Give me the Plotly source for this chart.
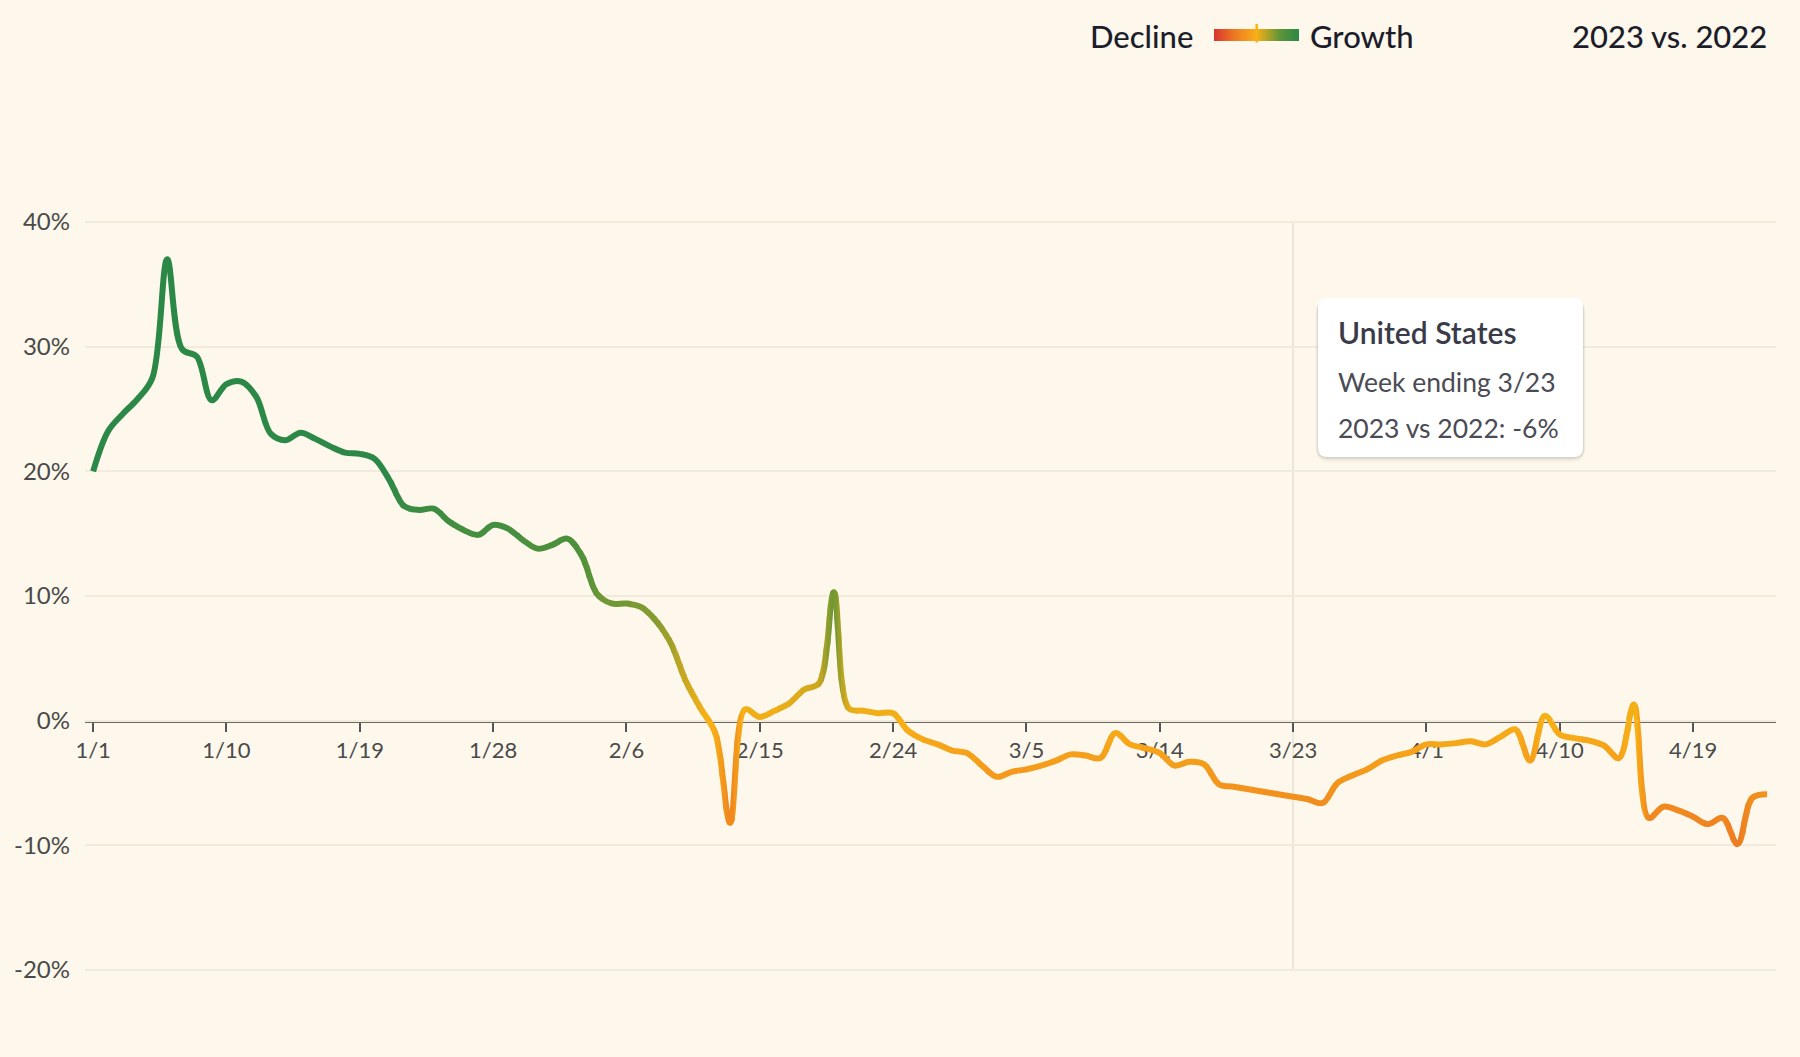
import pandas as pd
import plotly.graph_objects as go

# ---------------- data ----------------
start_date = "2023-01-01"
values = [
    20.0, 23.2, 24.6, 25.8, 27.5, 37.0, 29.8, 29.2, 25.7, 27.0,
    27.2, 26.0, 23.0, 22.5, 23.1, 22.6, 22.0, 21.5, 21.4, 21.0,
    19.3, 17.2, 16.9, 17.0, 16.0, 15.3, 14.9, 15.7, 15.4, 14.5,
    13.8, 14.1, 14.6, 13.2, 10.2, 9.4, 9.4, 9.1, 8.0, 6.2,
    3.2, 1.0, -1.0, -8.2, 0.9, 0.3, 0.8, 1.4, 2.5, 3.0,
    10.3, 1.0, 0.8, 0.6, 0.6, -0.8, -1.5, -1.9, -2.4, -2.6,
    -3.6, -4.5, -4.1, -3.9, -3.6, -3.2, -2.7, -2.8, -3.0, -1.0,
    -1.9, -2.2, -2.6, -3.6, -3.3, -3.5, -5.1, -5.3, -5.5, -5.7,
    -5.9, -6.1, -6.3, -6.6, -5.0, -4.4, -3.9, -3.2, -2.8, -2.5,
    -1.9, -1.9, -1.8, -1.65, -1.9, -1.3, -0.7, -3.2, 0.4, -1.1,
    -1.4, -1.6, -2.0, -3.0, 1.3, -7.8, -6.9, -7.2, -7.7, -8.3,
    -7.8, -9.9, -6.2, -5.9,
]
dates = pd.date_range(start_date, periods=len(values), freq="D")

tick_dates = ["2023-01-01", "2023-01-10", "2023-01-19", "2023-01-28", "2023-02-06",
              "2023-02-15", "2023-02-24", "2023-03-05", "2023-03-14", "2023-03-23",
              "2023-04-01", "2023-04-10", "2023-04-19"]
tick_labels = ["1/1", "1/10", "1/19", "1/28", "2/6", "2/15", "2/24", "3/5",
               "3/14", "3/23", "4/1", "4/10", "4/19"]
y_ticks = [-20, -10, 0, 10, 20, 30, 40]
y_tick_labels = ["-20%", "-10%", "0%", "10%", "20%", "30%", "40%"]

tooltip_region = "United States"
tooltip_week = "Week ending 3/23"
tooltip_value = "2023 vs 2022: -6%"
hover_date = "2023-03-23"

# ---------------- style ----------------
BG = "#FEF8EC"
FONT = "Lato, 'Open Sans', sans-serif"
W, H = 1800, 1057
ML, MR, MT, MB = 85, 24, 197, 62
PW, PH = W - ML - MR, H - MT - MB
Y_MIN, Y_MAX = -22, 42
C_MIN, C_MAX = -20, 20
LO_D, HI_D = -0.55, 113.6          # visible x-range in days from start_date
SPAN = HI_D - LO_D

stops = [(0.0, (216, 53, 47)), (0.25, (238, 122, 34)), (0.5, (248, 176, 23)),
         (0.78, (92, 148, 56)), (1.0, (42, 136, 71))]


def color_for(v):
    t = (min(max(v, C_MIN), C_MAX) - C_MIN) / (C_MAX - C_MIN)
    for (t0, c0), (t1, c1) in zip(stops[:-1], stops[1:]):
        if t <= t1:
            f = (t - t0) / (t1 - t0) if t1 > t0 else 0
            r, g, b = (round(c0[k] + (c1[k] - c0[k]) * f) for k in range(3))
            return f"rgb({r},{g},{b})"
    r, g, b = stops[-1][1]
    return f"rgb({r},{g},{b})"


colorscale = [[t, f"rgb{c}"] for t, c in stops]


def T(d):
    return (pd.Timestamp(start_date) + pd.Timedelta(days=d)).isoformat()


# paper-coordinate helpers for decorations (tooltip / legend)
def px(xp):
    return (xp - ML) / PW


def py(yp):
    return (H - MB - yp) / PH


fig = go.Figure()
layout_extra = {}

# ---------- gradient line: the same spline drawn in narrow x-windows, each clipped
# to its own (invisible) x-axis domain and coloured by the local value ----------
BIN = 0.6


def bin_of(v):
    v = min(max(v, C_MIN), C_MAX)
    return round(v / BIN)


SUB = 4
windows = []
for i in range(len(values) - 1):
    for j in range(SUB):
        a = i + j / SUB
        b = a + 1 / SUB
        c = values[i] + (values[i + 1] - values[i]) * (j + 0.5) / SUB
        k = bin_of(c)
        if windows and windows[-1][2] == k:
            windows[-1][1] = b
        else:
            windows.append([a, b, k])
windows[0][0] = LO_D
windows[-1][1] = HI_D

EPS = 1.2 * SPAN / PW  # one pixel of overlap to hide seams
for idx, (a, b, k) in enumerate(windows):
    n = idx + 2
    b2 = min(b + EPS, HI_D)
    layout_extra[f"xaxis{n}"] = dict(
        domain=[(a - LO_D) / SPAN, (b2 - LO_D) / SPAN], range=[T(a), T(b2)],
        type="date", visible=False, showgrid=False, zeroline=False,
        anchor="y", fixedrange=True,
    )
    fig.add_trace(go.Scatter(
        x=dates, y=values, mode="lines", xaxis=f"x{n}", yaxis="y",
        line=dict(color=color_for(k * BIN), width=6, shape="spline", smoothing=1.0),
        hoverinfo="skip", showlegend=False,
    ))

# dummy trace providing the Decline/Growth gradient legend
fig.add_trace(go.Scatter(
    x=[dates[0]], y=[0], mode="markers", hoverinfo="skip", showlegend=False,
    marker=dict(size=1, opacity=0, color=[0], cmin=C_MIN, cmax=C_MAX,
                colorscale=colorscale, showscale=True,
                colorbar=dict(orientation="h", x=px(1256.5), xanchor="center",
                              y=py(35), yanchor="middle", len=105, lenmode="pixels",
                              thickness=12, thicknessmode="pixels", outlinewidth=0,
                              xpad=10, ypad=0,
                              showticklabels=False, ticks="")),
))

shapes = []
# hover guide line
shapes.append(dict(type="line", xref="x", yref="y", x0=hover_date, x1=hover_date,
                   y0=-20, y1=40, line=dict(color="#ECE6DA", width=2), layer="below"))
# legend centre tick
shapes.append(dict(type="line", xref="paper", yref="paper", x0=px(1256.7), x1=px(1256.7),
                   y0=py(24), y1=py(42.5), line=dict(color="#F8B411", width=2.5)))


def rounded_rect(x0, y0, x1, y1, r):
    rx, ry = r / PW, r / PH
    X0, X1 = px(x0), px(x1)
    Y0, Y1 = py(y0), py(y1)  # Y0 top (larger), Y1 bottom
    return (f"M {X0+rx},{Y0} L {X1-rx},{Y0} Q {X1},{Y0} {X1},{Y0-ry} "
            f"L {X1},{Y1+ry} Q {X1},{Y1} {X1-rx},{Y1} L {X0+rx},{Y1} "
            f"Q {X0},{Y1} {X0},{Y1+ry} L {X0},{Y0-ry} Q {X0},{Y0} {X0+rx},{Y0} Z")


# tooltip shadow + box
for off, alpha in [(5, 0.03), (3, 0.05), (1.5, 0.07)]:
    shapes.append(dict(type="path", xref="paper", yref="paper",
                       path=rounded_rect(1318 - off / 2, 298 + off / 2, 1583 + off / 2, 457 + off, 9 + off),
                       fillcolor=f"rgba(0,0,0,{alpha})", line=dict(width=0), layer="above"))
shapes.append(dict(type="path", xref="paper", yref="paper",
                   path=rounded_rect(1318, 298, 1583, 457, 9),
                   fillcolor="#FFFFFF", line=dict(width=0), layer="above"))

annotations = [
    dict(text="Decline", x=px(1088), y=py(35.5), xanchor="left", yanchor="middle",
         font=dict(size=31, color="#1C1D2B", family=FONT, weight=500)),
    dict(text="Growth", x=px(1308), y=py(35.5), xanchor="left", yanchor="middle",
         font=dict(size=31, color="#1C1D2B", family=FONT, weight=500)),
    dict(text="2023 vs. 2022", x=px(1769), y=py(35.5), xanchor="right", yanchor="middle",
         font=dict(size=31, color="#1C1D2B", family=FONT, weight=500)),
    dict(text=tooltip_region, x=px(1336), y=py(332), xanchor="left", yanchor="middle",
         font=dict(size=30, color="#3A3B48", family=FONT, weight=600)),
    dict(text=tooltip_week, x=px(1336), y=py(382), xanchor="left", yanchor="middle",
         font=dict(size=26.5, color="#4A4B55", family=FONT)),
    dict(text=tooltip_value, x=px(1336), y=py(428), xanchor="left", yanchor="middle",
         font=dict(size=26.5, color="#4A4B55", family=FONT)),
]
for a in annotations:
    a.update(xref="paper", yref="paper", showarrow=False)

fig.update_layout(
    width=W, height=H,
    margin=dict(l=ML, r=MR, t=MT, b=MB, pad=0),
    paper_bgcolor=BG, plot_bgcolor="rgba(0,0,0,0)",
    font=dict(family=FONT, size=22, color="#4A4A4A"),
    showlegend=False, hovermode=False,
    shapes=shapes, annotations=annotations,
    xaxis=dict(
        type="date", range=[T(LO_D), T(HI_D)], domain=[0, 1],
        tickmode="array", tickvals=tick_dates, ticktext=tick_labels,
        showgrid=False, zeroline=False,
        showline=True, linecolor="#6A6A6A", linewidth=3,
        ticks="outside", ticklen=9, tickwidth=2, tickcolor="#555555",
        tickfont=dict(size=22, color="#4A4A4A", family=FONT),
        anchor="free", position=(0 - Y_MIN) / (Y_MAX - Y_MIN),
        layer="below traces",
    ),
    yaxis=dict(
        range=[Y_MIN, Y_MAX], tickmode="array", tickvals=y_ticks, ticktext=y_tick_labels,
        showgrid=True, gridcolor="#F2EADB", gridwidth=2, zeroline=False,
        showline=False, ticks="", ticklabelstandoff=14,
        tickfont=dict(size=24, color="#4A4A4A", family=FONT),
    ),
    **layout_extra,
)

fig.write_html(
    "out.html",
    config={"displayModeBar": False},
    post_script=("document.body.style.margin='0';document.body.style.overflow='hidden';"
                 f"document.body.style.background='{BG}';"),
)
